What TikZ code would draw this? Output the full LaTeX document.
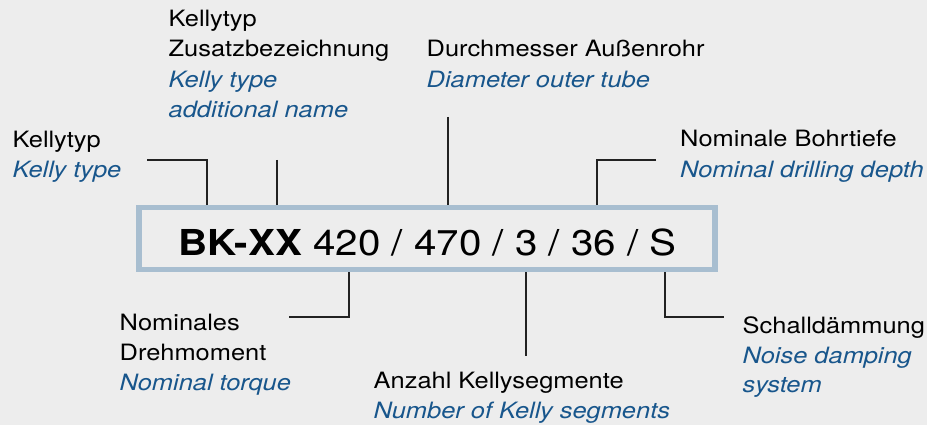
\documentclass[tikz,border=0pt]{standalone}
\usepackage{fontspec}
\setmainfont{TeX Gyre Heros}[FakeStretch=1.13]
\definecolor{bggray}{RGB}{237,237,237}
\definecolor{boxblue}{RGB}{168,190,208}
\definecolor{engblue}{RGB}{24,86,140}
\definecolor{leadgray}{RGB}{34,34,34}

\begin{document}
\begin{tikzpicture}[x = 1pt, y = -1pt,
                    de/.style = {anchor = base west, inner sep = 0pt, font = \fontsize{22.5}{30}\selectfont},
                    en/.style = {de, text = engblue, font = \fontsize{22.5}{30}\selectfont\itshape},
                    lead/.style = {draw = leadgray, line width = 1.5pt},
                    codebox/.style = {draw = boxblue, line width = 5.5pt, minimum width = 576pt, minimum height = 62pt, inner sep = 0pt}]
  \fill [bggray] (0, 0) rectangle (927, 425);
  \useasboundingbox (0, 0) rectangle (927, 425);

  % code box
  \node [codebox] (code) at (427, 238.5){};
  \node [anchor = base, inner sep = 0pt, font = \fontsize{35.7}{36}\selectfont] (codetext) at (427.5, 255)
        {\textbf{BK-XX} 420 / 470 / 3 / 36 / S};

  % upper labels
  \node [de] (kt1) at (12.5, 147.5){Kellytyp};
  \node [en] (kt2) at (12.5, 177.5){Kelly type};
  \node [de] (za1) at (168.5, 26.5){Kellytyp};
  \node [de] (za2) at (168.5, 57){Zusatzbezeichnung};
  \node [en] (za3) at (168.5, 87.5){Kelly type};
  \node [en] (za4) at (168.5, 118){additional name};
  \node [de] (dm1) at (426.5, 57){Durchmesser Außenrohr};
  \node [en] (dm2) at (426.5, 87.5){Diameter outer tube};
  \node [de] (bt1) at (680, 147){Nominale Bohrtiefe};
  \node [en] (bt2) at (680, 177.5){Nominal drilling depth};

  % lower labels
  \node [de] (dr1) at (119.5, 330){Nominales};
  \node [de] (dr2) at (119.5, 360){Drehmoment};
  \node [en] (dr3) at (119.5, 390){Nominal torque};
  \node [de] (ks1) at (373.5, 388){Anzahl Kellysegmente};
  \node [en] (ks2) at (373.5, 418){Number of Kelly segments};
  \node [de] (sd1) at (742.5, 333){Schalldämmung};
  \node [en] (sd2) at (742.5, 363){Noise damping};
  \node [en] (sd3) at (742.5, 392){system};

  % leader lines
  \coordinate (kte) at (147, 160);
  \coordinate (zae) at (277, 160);
  \coordinate (dme) at (448, 117);
  \coordinate (bte) at (656, 160);
  \coordinate (dre) at (289, 317);
  \coordinate (kse) at (526, 356);
  \coordinate (sde) at (724, 317);
  \draw [lead] (kte) -| ([xshift = -220pt]code.north);
  \draw [lead] (zae) -- ([xshift = -150pt]code.north);
  \draw [lead] (dme) -- ([xshift = 21pt]code.north);
  \draw [lead] (bte) -| ([xshift = 170pt]code.north);
  \draw [lead] ([xshift = -78pt]code.south) |- (dre);
  \draw [lead] ([xshift = 99pt]code.south) -- (kse);
  \draw [lead] ([xshift = 238pt]code.south) |- (sde);
\end{tikzpicture}
\end{document}
